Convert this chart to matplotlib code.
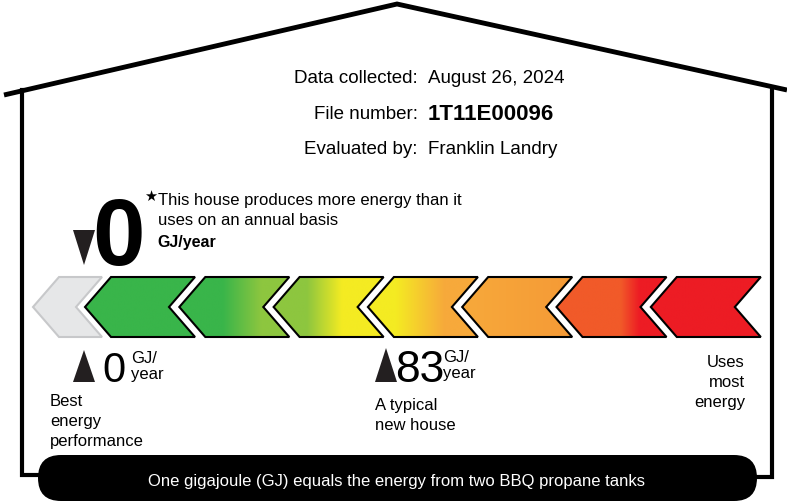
import numpy as np
import matplotlib
matplotlib.use("Agg")
import matplotlib.pyplot as plt
from matplotlib import font_manager
from matplotlib.patches import Polygon, FancyBboxPatch
from matplotlib.colors import to_rgb

# label data
header_labels = ["Data collected:", "File number:", "Evaluated by:"]
header_values = ["August 26, 2024", "1T11E00096", "Franklin Landry"]
house_rating = 0        # GJ/year, this house
best_rating = 0         # GJ/year, best energy performance
typical_rating = 83     # GJ/year, a typical new house
house_note = ["This house produces more energy than it", "uses on an annual basis"]
footer_text = "One gigajoule (GJ) equals the energy from two BBQ propane tanks"

names = {f.name for f in font_manager.fontManager.ttflist}
FONT = "Liberation Sans"
NARROW = "Liberation Sans Narrow" if "Liberation Sans Narrow" in names else "Liberation Sans"
plt.rcParams["font.family"] = [FONT, "DejaVu Sans"]

fig = plt.figure(figsize=(7.87, 5.01), dpi=100)
ax = fig.add_axes([0, 0, 1, 1])
ink = "#231f20"

# house outline
ax.plot([4, 397, 787], [95, 4, 90], color="black", lw=3.5, solid_joinstyle="miter", solid_capstyle="butt")
ax.plot([22, 22, 42], [90, 475, 475], color="black", lw=3, solid_joinstyle="miter")
ax.plot([772, 772, 755], [88, 477, 477], color="black", lw=3, solid_joinstyle="miter")

# header
for i, (lab, val) in enumerate(zip(header_labels, header_values)):
    yb = [83, 119, 154][i]
    ax.text(418, yb, lab, ha="right", va="baseline", fontsize=13.5)
    if i == 1:
        ax.text(428, yb + 1, val, ha="left", va="baseline", fontsize=16, fontweight="bold")
    else:
        ax.text(428, yb, val, ha="left", va="baseline", fontsize=13.5)


def chevron(x0, width, top=277, bot=337, d=26):
    mid = (top + bot) / 2
    return [(x0, mid), (x0 + d, top), (x0 + width, top),
            (x0 + width - d, mid), (x0 + width, bot), (x0 + d, bot)]


def gradient(stops, n=256):
    pos = [s[0] for s in stops]
    cols = np.array([to_rgb(s[1]) for s in stops])
    t = np.linspace(0, 1, n)
    rgb = np.stack([np.interp(t, pos, cols[:, k]) for k in range(3)], axis=-1)
    return rgb[np.newaxis, :, :]


# grey "net zero" chevron
ax.add_patch(Polygon(chevron(33, 69), closed=True, facecolor="#e6e7e8", edgecolor="#c7c8ca", lw=1.5))

green, lgreen, yellow, orange, dorange, ored, red = (
    "#39b54a", "#8dc63f", "#f4eb22", "#f7a93b", "#f59a36", "#f15a29", "#ed1c24")
stops = [
    [(0, green), (1, green)],
    [(0, green), (0.4, green), (0.75, lgreen), (1, lgreen)],
    [(0, lgreen), (0.3, lgreen), (0.62, yellow), (1, yellow)],
    [(0, yellow), (0.25, yellow), (0.7, orange), (1, orange)],
    [(0, orange), (1, dorange)],
    [(0, ored), (0.58, ored), (0.75, red), (1, red)],
    [(0, red), (1, red)],
]
for i, st in enumerate(stops):
    x0 = 85 + 94.3 * i
    pts = chevron(x0, 110)
    clip = Polygon(pts, closed=True, facecolor="none", edgecolor="none")
    ax.add_patch(clip)
    im = ax.imshow(gradient(st), extent=[x0, x0 + 110, 337, 277], aspect="auto", interpolation="bilinear")
    im.set_clip_path(clip)
    ax.add_patch(Polygon(pts, closed=True, facecolor="none", edgecolor="black", lw=1.5, joinstyle="miter"))

# this house rating
ax.add_patch(Polygon([(73, 230), (95, 230), (84, 265)], closed=True, facecolor=ink, edgecolor="none"))
ax.text(118.5, 265, str(house_rating), ha="center", va="baseline", fontsize=68, fontweight="bold", family=NARROW)
ax.text(151, 196, "\u2605", ha="center", va="center", fontsize=10.5, family="DejaVu Sans")
ax.text(157.5, 205, house_note[0], ha="left", va="baseline", fontsize=12)
ax.text(157.5, 225, house_note[1], ha="left", va="baseline", fontsize=12)
ax.text(157.5, 247, "GJ/year", ha="left", va="baseline", fontsize=11.5, fontweight="bold")

# best performance marker
ax.add_patch(Polygon([(73, 382), (95, 382), (84, 350)], closed=True, facecolor=ink, edgecolor="none"))
ax.text(114, 382, str(best_rating), ha="center", va="baseline", fontsize=30, family=NARROW)
ax.text(131, 363, "GJ/", ha="left", va="baseline", fontsize=12)
ax.text(131, 379, "year", ha="left", va="baseline", fontsize=12)
for j, line in enumerate(["Best", "energy", "performance"]):
    ax.text(50, 406 + 20 * j, line, ha="left", va="baseline", fontsize=12)

# typical new house marker
ax.add_patch(Polygon([(375, 382), (397, 382), (386, 348)], closed=True, facecolor=ink, edgecolor="none"))
ax.text(420, 382, str(typical_rating), ha="center", va="baseline", fontsize=32, family=NARROW)
ax.text(443, 362, "GJ/", ha="left", va="baseline", fontsize=12)
ax.text(443, 378, "year", ha="left", va="baseline", fontsize=12)
for j, line in enumerate(["A typical", "new house"]):
    ax.text(375, 410 + 20 * j, line, ha="left", va="baseline", fontsize=12)

for j, line in enumerate(["Uses", "most", "energy"]):
    ax.text(745, 367 + 20 * j, line, ha="right", va="baseline", fontsize=12)

# footer pill
ax.add_patch(FancyBboxPatch((38, 455), 719, 46, boxstyle="round,pad=0,rounding_size=23",
                            facecolor="black", edgecolor="none"))
ax.text(397, 486, footer_text, ha="center", va="baseline", fontsize=12, color="white")

ax.set_xlim(0, 787)
ax.set_ylim(501, 0)
ax.axis("off")
fig.savefig("out.png", dpi=100, facecolor="white")
